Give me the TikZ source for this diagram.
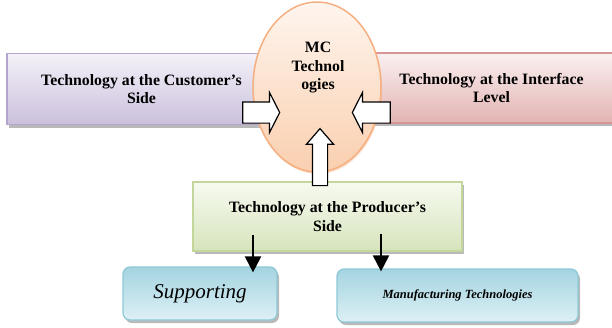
\documentclass[tikz,border=0pt]{standalone}
\usepackage{fontspec}
\setmainfont{Liberation Serif}
\usetikzlibrary{shapes, arrows.meta, positioning, shadows}

\definecolor{custtop}{HTML}{F4F1F8}
\definecolor{custbot}{HTML}{CBC0DD}
\definecolor{custline}{HTML}{B4A5CC}
\definecolor{intftop}{HTML}{FAF0F0}
\definecolor{intfbot}{HTML}{E3B3B3}
\definecolor{intfline}{HTML}{D79695}
\definecolor{mctop}{HTML}{FEF5EE}
\definecolor{mcbot}{HTML}{FACFAF}
\definecolor{mcline}{HTML}{F5AF80}
\definecolor{prodtop}{HTML}{F7FAF0}
\definecolor{prodbot}{HTML}{D6E4BC}
\definecolor{prodline}{HTML}{C3D79D}
\definecolor{leaftop}{HTML}{A4D4E1}
\definecolor{leafbot}{HTML}{DDF0F5}
\definecolor{leafline}{HTML}{8CC8D8}

\begin{document}
\begin{tikzpicture}[x=1pt, y=-1pt, >={Triangle[width=16pt, length=16pt]},
  box/.style={draw, line width=1.5pt, inner sep=0pt, align=center,
    font=\bfseries\fontsize{15.8}{18.5}\selectfont,
    drop shadow={shadow xshift=2pt, shadow yshift=-3pt, fill=black!50, opacity=.55}},
  leaf/.style={box, rounded corners=7pt, draw=leafline, line width=1.2pt,
    top color=leaftop, bottom color=leafbot, minimum height=53pt},
  fat/.style={single arrow, draw, line width=1.2pt, fill=white}
]
  \useasboundingbox (0,0) rectangle (612,327);

  % side boxes, partly hidden by the ellipse
  \node[box, draw=custline, top color=custtop, bottom color=custbot,
    minimum width=269pt, minimum height=71pt] (cust) at (141.5,89)
    {Technology at the Customer’s\\Side};
  \node[box, draw=intfline, top color=intftop, bottom color=intfbot,
    minimum width=249pt, minimum height=70pt] (intf) at (491.5,88)
    {Technology at the Interface\\Level};

  % MC technologies
  \node[ellipse, draw=mcline, line width=1.5pt, top color=mctop, bottom color=mcbot,
    minimum width=128pt, minimum height=170pt,
    drop shadow={shadow xshift=1pt, shadow yshift=-2pt, fill=mcline, opacity=.4}] (mc) at (317,87) {};
  \node[align=center, font=\bfseries\fontsize{15.8}{18.5}\selectfont] (mclabel)
    at (318,68) {MC\\Technol\\ogies};

  \node[box, draw=prodline, top color=prodtop, bottom color=prodbot,
    minimum width=269pt, minimum height=69pt] (prod) at (327.5,216.5)
    {Technology at the Producer’s\\Side};

  % white block arrows into the ellipse
  \node[fat, inner sep=10pt, minimum height=37pt, single arrow head extend=9.5pt,
    single arrow tip angle=126] (larr) at (258.5,112.5) {};
  \node[fat, inner sep=10pt, minimum height=38pt, single arrow head extend=9.5pt,
    single arrow tip angle=126, shape border rotate=180] (rarr) at (374,112.5) {};
  \node[fat, inner sep=7pt, minimum height=57pt, single arrow head extend=6pt,
    single arrow tip angle=82, shape border rotate=90] (uarr) at (320,161.5) {};

  \node[leaf, minimum width=154pt, font=\itshape\fontsize{21}{24}\selectfont] (supp)
    at (200,293.5) {Supporting};
  \node[leaf, minimum width=241pt, font=\bfseries\itshape\fontsize{12.5}{15}\selectfont] (manu)
    at (457.5,295.5) {Manufacturing Technologies};

  \draw[->, line width=2pt] ([xshift=-74.5pt, yshift=17pt]prod.south) -- ([xshift=53pt, yshift=-6pt]supp.north);
  \draw[->, line width=2pt] ([xshift=53.5pt, yshift=18pt]prod.south) -- ([xshift=-76.5pt, yshift=-3pt]manu.north);
\end{tikzpicture}
\end{document}
